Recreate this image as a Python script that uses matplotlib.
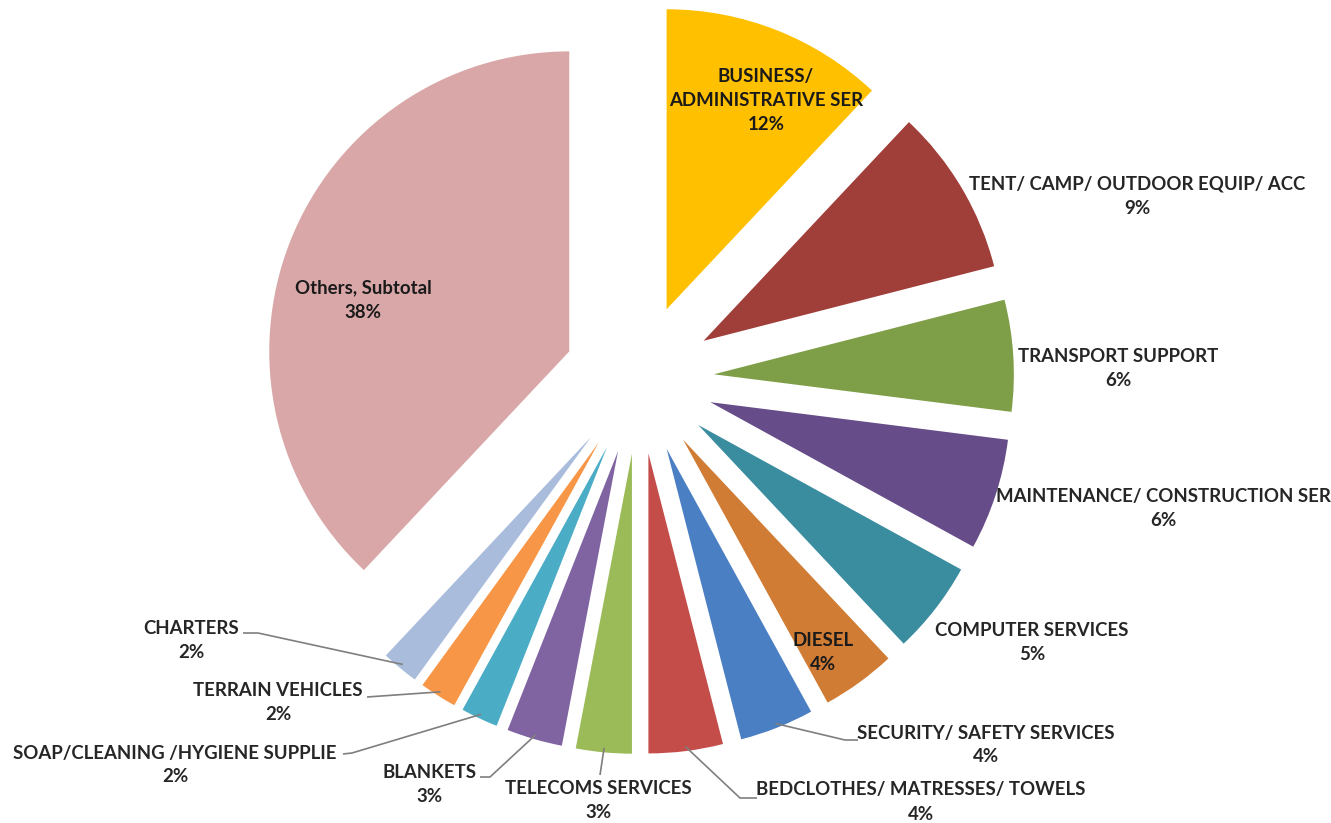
import numpy as np
import matplotlib.pyplot as plt

categories = ["BUSINESS/\nADMINISTRATIVE SER", "TENT/ CAMP/ OUTDOOR EQUIP/ ACC", "TRANSPORT SUPPORT",
              "MAINTENANCE/ CONSTRUCTION SER", "COMPUTER SERVICES", "DIESEL",
              "SECURITY/ SAFETY SERVICES", "BEDCLOTHES/ MATRESSES/ TOWELS", "TELECOMS SERVICES",
              "BLANKETS", "SOAP/CLEANING /HYGIENE SUPPLIE", "TERRAIN VEHICLES", "CHARTERS",
              "Others, Subtotal"]
values = [12, 9, 6, 6, 5, 4, 4, 4, 3, 3, 2, 2, 2, 38]
colors = ["#FFC000", "#A03E3A", "#7F9E48", "#664C88", "#3A8D9F", "#D17C34", "#4A7FC3",
          "#C44D4A", "#9BBB59", "#8064A2", "#4BACC6", "#F79646", "#A9BCDC", "#D9A7A7"]

W, H = 1331, 823
fig = plt.figure(figsize=(W / 100, H / 100), dpi=100)
ax = fig.add_axes([0, 0, 1, 1])

C = (639, H - 379)
R = 300
EXP = 75
wedges, _ = ax.pie(values, colors=colors, startangle=90, counterclock=False,
                   center=C, radius=R, explode=[EXP] * len(values),
                   wedgeprops=dict(linewidth=0))
ax.set_xlim(0, W)
ax.set_ylim(0, H)
ax.set_aspect("equal")
ax.axis("off")

FONT = "Lato"
txtc = "#262626"
# label placement (screen coords: x, y-from-top), inside flag
label_pos = [(766, 100, True), (1137, 196, False), (1118, 368, False), (1163, 508, False),
             (1032, 642, False), (823, 653, True), (986, 745, False), (921, 802, False),
             (598, 800, False), (429, 785, False), (175, 765, False), (278, 702, False),
             (191, 640, False), (363, 300, True)]

for i, (lab, v) in enumerate(zip(categories, values)):
    x, y, inside = label_pos[i]
    s = f"{lab}\n{v}%"
    ax.text(x, H - y, s, ha="center", va="center", fontsize=13.4, fontweight="bold",
            family=FONT, color="#1a1a1a" if inside else txtc, linespacing=1.5)

# leader lines: start on slice outer edge, end near label
leader_ends = {6: [(845, 740), (858, 740)], 7: [(740, 798), (757, 798)], 8: [(600, 775)],
               9: [(490, 777), (480, 777)], 10: [(352, 753), (343, 754)],
               11: [(367, 697)], 12: [(258, 633), (243, 633)]}
cum = np.concatenate([[0], np.cumsum(values)]) / sum(values)
for i, pts in leader_ends.items():
    tm = np.deg2rad(90 - 360 * (cum[i] + cum[i + 1]) / 2)
    d = EXP + R * 0.985
    sx = C[0] + d * np.cos(tm)
    sy = C[1] + d * np.sin(tm)
    xs = [sx] + [p[0] for p in pts]
    ys = [sy] + [H - p[1] for p in pts]
    ax.plot(xs, ys, color="#7f7f7f", lw=1.2, solid_capstyle="butt")

fig.savefig("out.png", dpi=100, facecolor="white")
